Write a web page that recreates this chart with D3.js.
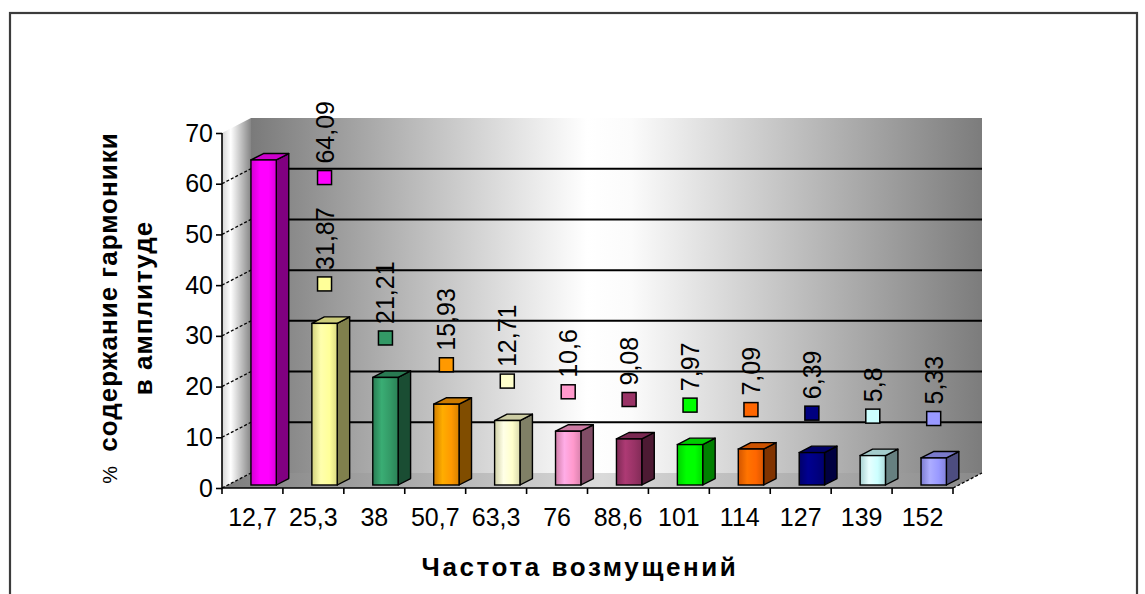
<!DOCTYPE html>
<html><head><meta charset="utf-8">
<script src="https://cdn.jsdelivr.net/npm/d3@7"></script>
<style>
body{margin:0;background:#fff}
svg{display:block}
text{font-family:"Liberation Sans",Arial,sans-serif;fill:#000}
</style>
</head><body>
<svg id="chart" width="1145" height="594"></svg>
<script>
// Harmonic content of the disturbance, per frequency
const categories = ["12,7","25,3","38","50,7","63,3","76","88,6","101","114","127","139","152"];
const values = [64.09, 31.87, 21.21, 15.93, 12.71, 10.6, 9.08, 7.97, 7.09, 6.39, 5.8, 5.33];
const yTicks = [0, 10, 20, 30, 40, 50, 60, 70];
const gridValues = [10, 20, 30, 40, 50, 60];
const barColors = ["#ff00ff","#ffff99","#339966","#ff9900","#ffffcc","#ff99cc",
                   "#993366","#00ff00","#ff6600","#000080","#ccffff","#9999ff"];
const yTitleLines = ["содержание гармоники", "в амплитуде"];
const yTitlePrefix = "%";
const xTitle = "Частота возмущений";

const svg = d3.select("#chart");
const defs = svg.append("defs");

// frame
svg.append("rect").attr("x", 10).attr("y", 13).attr("width", 1127).attr("height", 620)
  .attr("fill", "none").attr("stroke", "#3c3c3c").attr("stroke-width", 2.2);

// scales
const x = d3.scaleBand().domain(categories).range([222, 953]);
const y = d3.scaleLinear().domain([0, 70]).range([488, 133]);
const bw = x.bandwidth();
const DEPTH = {x: 29, y: -15};          // floor depth vector
const f0 = 0.2, f1 = 0.63;              // bar depth fractions on the floor
const left = x.range()[0], right = x.range()[1];

function grad(id, x1, x2, stops) {
  const g = defs.append("linearGradient").attr("id", id)
    .attr("gradientUnits", "userSpaceOnUse")
    .attr("x1", x1).attr("x2", x2).attr("y1", 0).attr("y2", 0);
  stops.forEach(([o, c]) => g.append("stop").attr("offset", o).attr("stop-color", c));
}
grad("wallGrad", left + DEPTH.x, right + DEPTH.x, [[0, "#7a7a7a"], [0.46, "#ffffff"], [0.52, "#fbfbfb"], [1, "#7c7c7c"]]);
grad("floorGrad", left, right + DEPTH.x, [[0, "#7e7e7e"], [0.5, "#dadada"], [1, "#898989"]]);
grad("sideGrad", left, left + DEPTH.x, [[0, "#d4d4d4"], [0.3, "#ffffff"], [1, "#858585"]]);

const pts = a => a.map(p => p.join(",")).join(" ");
const y0 = y(0), yTop = y(70);

// back wall
svg.append("polygon")
  .attr("points", pts([[left + DEPTH.x, yTop + DEPTH.y], [right + DEPTH.x, yTop + DEPTH.y],
                       [right + DEPTH.x, y0 + DEPTH.y], [left + DEPTH.x, y0 + DEPTH.y]]))
  .attr("fill", "url(#wallGrad)");
// side wall
svg.append("polygon")
  .attr("points", pts([[left, yTop], [left + DEPTH.x, yTop + DEPTH.y],
                       [left + DEPTH.x, y0 + DEPTH.y], [left, y0]]))
  .attr("fill", "url(#sideGrad)");
// floor
svg.append("polygon")
  .attr("points", pts([[left, y0], [right, y0], [right + DEPTH.x, y0 + DEPTH.y], [left + DEPTH.x, y0 + DEPTH.y]]))
  .attr("fill", "url(#floorGrad)");

// gridlines on the back wall and the side wall
svg.selectAll(".grid").data(gridValues).join("line")
  .attr("x1", left + DEPTH.x).attr("x2", right + DEPTH.x)
  .attr("y1", d => y(d) + DEPTH.y).attr("y2", d => y(d) + DEPTH.y)
  .attr("stroke", "#000").attr("stroke-width", 2);
svg.selectAll(".sgrid").data(gridValues.concat([0])).join("line")
  .attr("x1", left).attr("x2", left + DEPTH.x)
  .attr("y1", d => y(d)).attr("y2", d => y(d) + DEPTH.y)
  .attr("stroke", "#000").attr("stroke-width", 1.3).attr("stroke-dasharray", "3,2");
svg.append("line")
  .attr("x1", right).attr("x2", right + DEPTH.x).attr("y1", y0).attr("y2", y0 + DEPTH.y)
  .attr("stroke", "#000").attr("stroke-width", 1.3).attr("stroke-dasharray", "3,2");

// bars
const barW = bw * 0.416;
const barX = c => x(c) + bw * 0.38 + DEPTH.x * f0;
const sdx = DEPTH.x * (f1 - f0), sdy = DEPTH.y * (f1 - f0);
const front = v => y(v) + DEPTH.y * f0;
const scale = (c, k) => { const r = d3.rgb(c); return d3.rgb(r.r * k, r.g * k, r.b * k).formatHex(); };

barColors.forEach((c, i) => {
  const g = defs.append("linearGradient").attr("id", "bar" + i).attr("x1", 0).attr("x2", 1).attr("y1", 0).attr("y2", 0);
  [[0, scale(c, 0.82)], [0.35, d3.rgb(c).brighter(0.35).formatHex()], [0.7, c], [1, scale(c, 0.85)]]
    .forEach(([o, col]) => g.append("stop").attr("offset", o).attr("stop-color", col));
});

const bars = svg.selectAll(".bar").data(categories).join("g");
bars.append("polygon") // side face
  .attr("points", (c, i) => { const bx = barX(c) + barW, t = front(values[i]), b = front(0);
    return pts([[bx, t], [bx + sdx, t + sdy], [bx + sdx, b + sdy], [bx, b]]); })
  .attr("fill", (c, i) => scale(barColors[i], 0.5)).attr("stroke", "#000").attr("stroke-width", 1.4).attr("stroke-linejoin", "round");
bars.append("polygon") // top face
  .attr("points", (c, i) => { const bx = barX(c), t = front(values[i]);
    return pts([[bx, t], [bx + sdx, t + sdy], [bx + barW + sdx, t + sdy], [bx + barW, t]]); })
  .attr("fill", (c, i) => scale(barColors[i], 0.8)).attr("stroke", "#000").attr("stroke-width", 1.4).attr("stroke-linejoin", "round");
bars.append("rect") // front face
  .attr("x", c => barX(c)).attr("width", barW)
  .attr("y", (c, i) => front(values[i])).attr("height", (c, i) => front(0) - front(values[i]))
  .attr("fill", (c, i) => `url(#bar${i})`).attr("stroke", "#000").attr("stroke-width", 1.4);

// axes
const yAxis = svg.append("g").attr("transform", `translate(${left},0)`)
  .call(d3.axisLeft(y).tickValues(yTicks).tickSize(6).tickPadding(3).tickFormat(d3.format("d")));
const xAxis = svg.append("g").attr("transform", `translate(0,${y0})`)
  .call(d3.axisBottom(x).tickSize(0).tickPadding(20));
[yAxis, xAxis].forEach(a => {
  a.select(".domain").attr("stroke", "#000").attr("stroke-width", 1.6);
  a.selectAll("line").attr("stroke", "#000").attr("stroke-width", 1.6);
  a.selectAll("text").attr("font-size", 25).attr("font-family", '"Liberation Sans",Arial,sans-serif');
});
yAxis.select(".domain").attr("d", `M0,${y0}V${yTop}`);
xAxis.select(".domain").attr("d", `M${left},0H${right}`);
xAxis.selectAll("text").attr("dy", "0.71em");
// category boundary ticks
svg.selectAll(".xtick").data(d3.range(categories.length + 1)).join("line")
  .attr("x1", i => left + i * bw).attr("x2", i => left + i * bw)
  .attr("y1", y0).attr("y2", y0 + 6).attr("stroke", "#000").attr("stroke-width", 1.6);

// data labels: legend key and the value, set upright above each bar
const labelTop = 101;
const fmt = v => String(v).replace(".", ",");
categories.forEach((c, i) => {
  const slot = categories[Math.max(i, 1)];          // first label stands beside its bar
  const lx = barX(slot) + barW / 2;
  const g = svg.append("g");
  const t = g.append("text").attr("font-size", 25).attr("dy", "0.36em").text(fmt(values[i]));
  const len = t.node().getComputedTextLength();
  let sy = front(values[i]) + sdy - 33;
  if (sy - 14 - len < labelTop) sy = labelTop + 14 + len;
  t.attr("transform", `translate(${lx},${sy - 14}) rotate(-90)`);
  g.append("rect").attr("x", lx - 7).attr("y", sy - 7).attr("width", 14).attr("height", 14)
    .attr("fill", barColors[i]).attr("stroke", "#000").attr("stroke-width", 1.5);
});

// axis titles
const yt = svg.append("g").attr("transform", "translate(0,308)");
const l1 = yt.append("text").attr("transform", "translate(108,0) rotate(-90)")
  .attr("text-anchor", "middle").attr("dy", "0.35em").attr("font-size", 26).attr("font-weight", "bold")
  .attr("letter-spacing", 1).style("white-space", "pre");
l1.append("tspan").attr("font-weight", "normal").attr("font-size", 20).text(yTitlePrefix + "  ");
l1.append("tspan").text(yTitleLines[0]);
yt.append("text").attr("transform", "translate(143,0) rotate(-90)")
  .attr("text-anchor", "middle").attr("dy", "0.35em").attr("font-size", 26).attr("font-weight", "bold")
  .attr("letter-spacing", 1).text(yTitleLines[1]);
svg.append("text").attr("x", 580).attr("y", 567).attr("dy", "0.35em").attr("text-anchor", "middle")
  .attr("font-size", 26).attr("font-weight", "bold").attr("letter-spacing", 2.6).text(xTitle);
</script>
</body></html>
